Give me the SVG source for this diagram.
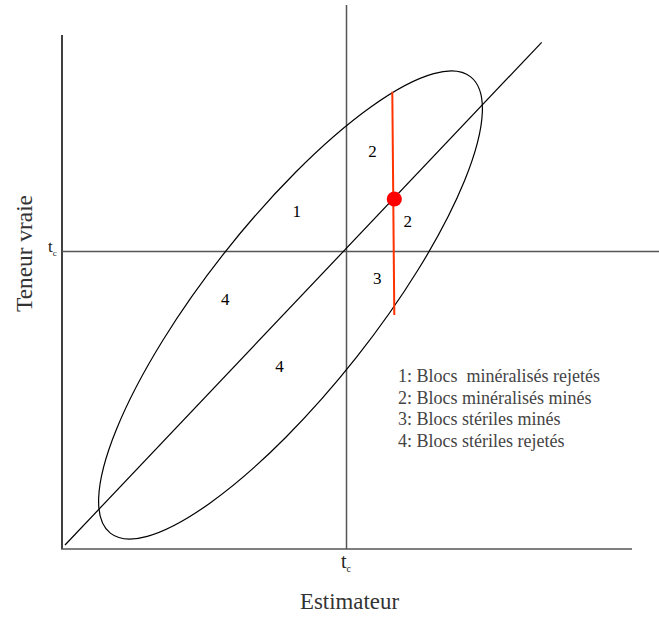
<svg xmlns="http://www.w3.org/2000/svg" width="659" height="617" viewBox="0 0 659 617">
<style>
.ax{stroke:#555;stroke-width:1.5;fill:none}
.ln{stroke:#000;stroke-width:1.2;fill:none}
.num{font-family:"Liberation Serif",serif;font-size:17px;fill:#000;text-anchor:middle}
.leg{font-family:"Liberation Serif",serif;font-size:18px;fill:#444;white-space:pre}
.lab{font-family:"Liberation Serif",serif;font-size:23px;fill:#333}
.tc{font-family:"Liberation Serif",serif;fill:#222}
</style>
<rect width="659" height="617" fill="#fff"/>
<g id="axes">
<line x1="62" y1="35" x2="62" y2="549" stroke="#000" stroke-width="1.5"/>
<line class="ax" x1="61" y1="549" x2="632" y2="549"/>
<line class="ax" x1="346.5" y1="5" x2="346.5" y2="549"/>
<line class="ax" x1="62" y1="251.5" x2="659" y2="251.5"/>
</g>
<g id="connectors">
<line class="ln" x1="65" y1="545" x2="541.7" y2="42.3"/>
<ellipse id="ellipse" class="ln" cx="290.5" cy="305" rx="290.7" ry="84.2" transform="rotate(-51.7 290.5 305)"/>
<line x1="392.3" y1="91.7" x2="394.3" y2="315" stroke="#ff3300" stroke-width="2"/>
</g>
<g id="point"><circle cx="394.3" cy="199" r="7.6" fill="#ff0000"/></g>
<g id="regions">
<text class="num" x="372.6" y="156.5">2</text>
<text class="num" x="296.8" y="217">1</text>
<text class="num" x="407.8" y="226.5">2</text>
<text class="num" x="377.2" y="284">3</text>
<text class="num" x="225.3" y="305">4</text>
<text class="num" x="279.6" y="372">4</text>
</g>
<g id="legend">
<text class="leg" x="398" y="382" xml:space="preserve">1: Blocs  minéralisés rejetés</text>
<text class="leg" x="398" y="403.7">2: Blocs minéralisés minés</text>
<text class="leg" x="398" y="425.3">3: Blocs stériles minés</text>
<text class="leg" x="398" y="447">4: Blocs stériles rejetés</text>
</g>
<g id="labels">
<text class="tc" x="48" y="252" font-size="17">t<tspan font-size="9" dy="4">c</tspan></text>
<text class="tc" x="341" y="568" font-size="20">t<tspan font-size="10" dy="4">c</tspan></text>
<text class="lab" x="300" y="609.3" textLength="99" lengthAdjust="spacingAndGlyphs">Estimateur</text>
<text class="lab" transform="translate(32 312) rotate(-90)" textLength="117" lengthAdjust="spacingAndGlyphs">Teneur vraie</text>
</g>
</svg>
